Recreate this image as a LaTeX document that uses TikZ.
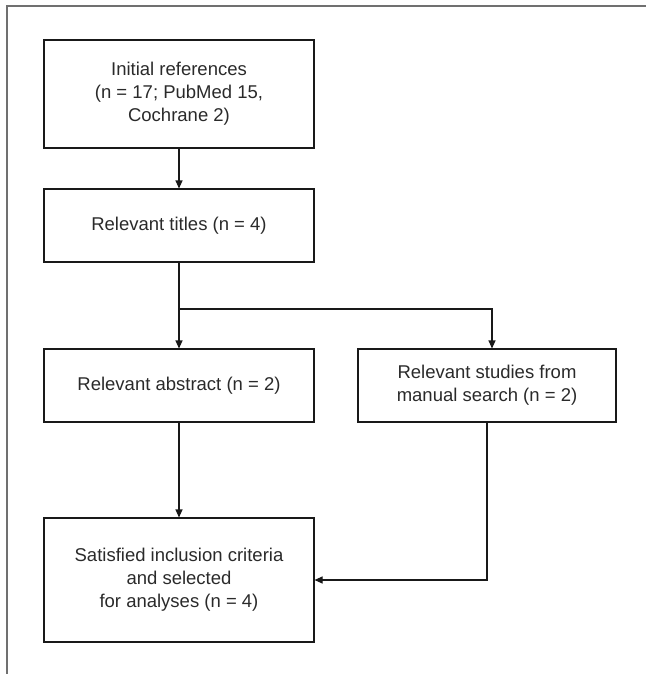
\documentclass[tikz,border=0pt]{standalone}
\usepackage{fontspec}
\setmainfont{Liberation Sans}
\usetikzlibrary{arrows.meta}
\definecolor{txt}{HTML}{2A2A2A}
\definecolor{frame}{HTML}{707070}
\begin{document}
\begin{tikzpicture}[x=1pt,y=-1pt,
  box/.style={draw=black!90, line width=1.1pt, minimum width=270pt, align=center,
    font=\fontsize{18.5}{23}\selectfont, text=txt, inner sep=0pt},
  conn/.style={draw=black!90, line width=1.1pt},
  arr/.style={conn, -{Triangle[length=8pt,width=7pt]}}]
\useasboundingbox (0,0) rectangle (646,674);
\draw[frame, line width=1.5pt] (7,674) -- (7,6) -- (646,6);
\node[box, minimum height=108pt] (b1) at (179,94) {Initial references\\(n = 17; PubMed 15,\\Cochrane 2)};
\node[box, minimum height=73pt] (b2) at (179,225.5) {Relevant titles (n = 4)};
\node[box, minimum height=73pt] (b3) at (179,385.5) {Relevant abstract (n = 2)};
\node[box, minimum height=73pt, minimum width=258pt] (b4) at (487,385.5) {Relevant studies from\\manual search (n = 2)};
\node[box, minimum height=124pt] (b5) at (179,580) {Satisfied inclusion criteria\\and selected\\for analyses (n = 4)};
\coordinate (split) at (179,309);
\draw[arr] (b1) -- (b2);
\draw[arr] (b2) -- (b3);
\draw[arr] (split) -| ([xshift=5pt]b4.north);
\draw[arr] (b3) -- (b5);
\draw[arr] (b4.south) |- (b5.east);
\end{tikzpicture}
\end{document}
